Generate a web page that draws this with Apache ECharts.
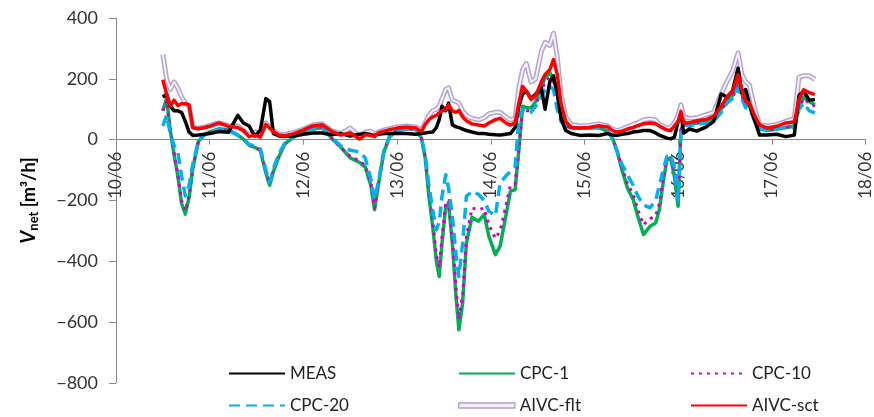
<!DOCTYPE html>
<html>
<head>
<meta charset="utf-8">
<script src="https://cdn.jsdelivr.net/npm/echarts@6/dist/echarts.min.js"></script>
<style>
html,body{margin:0;padding:0;background:#fff;}
#chart{width:874px;height:417px;}
</style>
</head>
<body>
<div id="chart"></div>
<script>
// time in days since 10/06 00:00
const times = [0.50,0.54,0.58,0.62,0.66,0.70,0.74,0.78,0.82,0.88,0.95,1.00,1.10,1.20,1.30,1.36,1.42,1.48,1.54,1.60,1.64,1.68,1.74,1.80,1.90,2.00,2.10,2.20,2.30,2.40,2.50,2.60,2.66,2.72,2.76,2.80,2.86,2.92,3.00,3.10,3.20,3.26,3.30,3.34,3.38,3.42,3.45,3.48,3.52,3.55,3.59,3.63,3.66,3.70,3.74,3.80,3.87,3.93,3.98,4.05,4.10,4.16,4.21,4.26,4.30,4.34,4.38,4.43,4.48,4.54,4.58,4.63,4.67,4.71,4.75,4.80,4.86,4.95,5.05,5.15,5.25,5.30,5.35,5.40,5.46,5.52,5.57,5.63,5.70,5.76,5.80,5.84,5.88,5.92,5.96,6.00,6.03,6.06,6.12,6.20,6.30,6.38,6.46,6.52,6.58,6.64,6.68,6.72,6.76,6.82,6.87,6.95,7.05,7.15,7.24,7.29,7.34,7.40,7.46];

const meas = [140,150,110,95,95,90,60,25,14,15,18,20,27,24,80,55,45,12,30,135,125,20,12,10,12,18,22,22,16,20,12,18,20,16,14,18,20,20,20,20,18,20,22,24,25,40,66,110,95,120,49,42,40,35,30,25,20,20,18,16,15,18,20,40,110,150,160,135,150,170,100,190,210,150,70,30,20,14,15,14,20,15,14,18,20,25,27,30,30,22,15,10,5,3,8,60,85,22,35,28,42,60,150,140,160,235,155,165,120,60,15,15,18,10,15,145,160,130,132];

const cpc1 = [95,135,30,-50,-120,-210,-245,-190,-95,-5,18,25,35,32,15,2,-18,-25,-35,-110,-150,-105,-55,-15,10,25,35,40,5,-25,-60,-75,-90,-150,-230,-150,-40,10,30,35,35,5,-60,-186,-285,-400,-450,-340,-219,-210,-340,-520,-625,-537,-340,-255,-268,-246,-318,-378,-350,-252,-170,-164,-35,110,105,105,125,170,204,220,200,154,95,45,38,38,38,40,27,5,-40,-99,-160,-197,-252,-312,-285,-274,-230,-142,-66,-60,-120,-219,30,60,50,55,60,70,100,130,145,190,150,115,110,70,40,30,35,40,45,110,140,125,115];

const cpc10 = [95,130,30,-45,-115,-200,-235,-185,-90,-5,18,25,35,32,15,2,-18,-25,-35,-105,-145,-100,-50,-15,10,25,35,40,5,-25,-55,-70,-85,-145,-225,-145,-40,10,30,35,35,5,-55,-170,-265,-380,-420,-320,-205,-200,-320,-490,-590,-510,-320,-225,-230,-225,-280,-325,-300,-220,-150,-145,-30,100,95,95,115,160,190,205,190,145,90,45,38,38,38,40,27,5,-38,-90,-145,-180,-230,-280,-260,-250,-210,-130,-60,-55,-110,-200,30,60,50,55,60,70,95,125,140,180,145,110,105,65,40,30,35,40,45,105,135,120,110];

const cpc20 = [45,80,20,-20,-40,-120,-185,-150,-80,-5,18,25,35,32,15,2,-15,-22,-30,-100,-140,-95,-45,-12,10,25,35,40,8,-20,-35,-40,-60,-130,-195,-140,-35,10,30,35,35,5,-50,-150,-230,-296,-270,-186,-115,-160,-252,-380,-450,-340,-186,-170,-180,-200,-235,-250,-142,-120,-104,-88,66,99,88,90,110,140,164,175,165,99,60,45,38,38,38,40,25,5,-40,-80,-115,-150,-185,-215,-224,-200,-150,-100,-55,-50,-90,-200,25,50,45,50,55,60,90,120,135,170,135,105,100,60,35,30,35,40,40,100,120,95,88];

const aivcFlt = [280,200,165,190,170,140,120,110,42,38,42,47,55,47,45,30,15,25,22,55,42,30,18,17,24,35,48,52,30,20,38,10,25,28,18,25,32,36,42,45,42,32,55,80,95,100,110,135,165,170,130,125,120,95,80,70,65,72,85,90,90,75,65,70,170,230,250,190,200,290,320,310,350,270,150,75,50,45,47,52,45,35,30,35,42,50,55,65,68,65,50,45,38,40,55,80,115,75,70,72,82,90,150,190,225,285,215,190,180,100,50,45,50,60,70,205,210,210,198];

const aivcSct = [197,150,110,130,112,118,118,115,39,36,40,44,55,44,40,30,10,15,8,50,38,27,15,13,20,32,45,49,28,15,22,2,16,14,10,22,28,33,38,42,38,27,50,66,75,80,88,95,100,115,95,90,96,75,62,52,48,45,55,66,70,55,48,55,121,175,160,132,145,190,214,230,263,214,120,60,40,38,40,46,42,30,25,28,35,40,46,52,55,52,45,38,32,30,45,60,93,55,55,62,66,77,110,140,159,214,165,126,120,77,49,38,44,55,58,132,164,155,148];

const dateLabels = ['10/06','11/06','12/06','13/06','14/06','15/06','16/06','17/06','18/06'];
const yTicks = [-800,-600,-400,-200,0,200,400];

const legendOrder = ['MEAS','CPC-1','CPC-10','CPC-20','AIVC-flt','AIVC-sct'];

function pairs(arr){ return arr.map((v,i)=>[times[i], v]); }

const FONT = 'Lato';
const W = 874, H = 417;
const GRID = {left:116, right:6, top:18, bottom:34};
const plotH = H - GRID.top - GRID.bottom;
const yMin = yTicks[0], yMax = yTicks[yTicks.length-1];
// shift the x axis up so it crosses the y axis at 0
const xAxisOffset = -plotH * (0 - yMin) / (yMax - yMin);

const chart = echarts.init(document.getElementById('chart'), null, {renderer:'canvas'});

function mkLine(name, data, color, width, type, z){
  return {
    name: name, type: 'line', data: pairs(data), symbol: 'none', z: z,
    lineStyle: {color: color, width: width, type: type || 'solid', cap: 'butt', join: 'round'},
    itemStyle: {color: color}, animation: false
  };
}

const legendPos = [
  {left:228, top:365}, {left:458, top:365}, {left:690, top:365},
  {left:228, top:397}, {left:458, top:397}, {left:690, top:397}
];
const legends = legendOrder.map((n,i)=>{
  const isFlt = (n === 'AIVC-flt');
  const d = isFlt
    ? {name:n, icon:'rect', itemStyle:{color:'#f4f0f8', borderColor:'#b4a2cf', borderWidth:1.5, opacity:1}}
    : {name:n};
  return {
    data:[d], left: legendPos[i].left, top: legendPos[i].top, padding: 0,
    itemWidth: 56, itemHeight: isFlt ? 5 : 14, itemGap: 5,
    itemStyle: isFlt ? {} : {opacity: 0},
    textStyle:{fontFamily: FONT, fontSize: 17, color:'#222'},
    selectedMode: false
  };
});

const option = {
  backgroundColor: '#fff',
  animation: false,
  grid: {left:GRID.left, right:GRID.right, top:GRID.top, bottom:GRID.bottom, containLabel:false},
  legend: legends,
  xAxis: {
    type: 'value', min: 0, max: 8, interval: 1, position: 'bottom', offset: xAxisOffset,
    axisLine: {show: true, onZero: false, lineStyle: {color:'#888', width:1}},
    axisTick: {show: true, inside: false, length: 5, lineStyle:{color:'#888'}},
    splitLine: {show: false},
    axisLabel: {
      rotate: 90, margin: 12, fontFamily: FONT, fontSize: 17, color: '#333',
      formatter: v => dateLabels[Math.round(v)]
    }
  },
  yAxis: {
    type: 'value', min: yMin, max: yMax, interval: 200,
    axisLine: {show: true, onZero: false, lineStyle: {color:'#888', width:1}},
    axisTick: {show: true, inside: false, length: 7, lineStyle:{color:'#888'}},
    splitLine: {show: false},
    axisLabel: {
      margin: 18, fontFamily: FONT, fontSize: 18, color: '#333',
      formatter: v => String(v).replace('-', '\u2212')
    },
    name: '{v|V}{sub|net}{n| [m\u00B3/h]}',
    nameLocation: 'middle', nameGap: 76, nameRotate: 90,
    nameTextStyle: {
      fontFamily: FONT, color:'#000',
      rich: {
        v: {fontSize: 20, fontWeight:'bold', fontStyle:'italic', fontFamily: FONT, color:'#000'},
        sub: {fontSize: 13, fontWeight:'bold', fontFamily: FONT, color:'#000', verticalAlign:'bottom', padding:[9,0,0,0]},
        n: {fontSize: 18, fontWeight:'bold', fontFamily: FONT, color:'#000'}
      }
    }
  },
  series: [
    mkLine('AIVC-flt', aivcFlt, '#b4a2cf', 5, 'solid', 1),
    mkLine('AIVC-flt-inner', aivcFlt, '#f4f0f8', 2, 'solid', 2),
    mkLine('CPC-1', cpc1, '#00b050', 3.5, 'solid', 3),
    mkLine('CPC-10', cpc10, '#cc00cc', 3, [3,5], 4),
    mkLine('CPC-20', cpc20, '#00b0f0', 3.5, [11,6], 5),
    mkLine('MEAS', meas, '#000000', 3.5, 'solid', 6),
    mkLine('AIVC-sct', aivcSct, '#ff0000', 3.5, 'solid', 7)
  ]
};
chart.setOption(option);
</script>
</body>
</html>
